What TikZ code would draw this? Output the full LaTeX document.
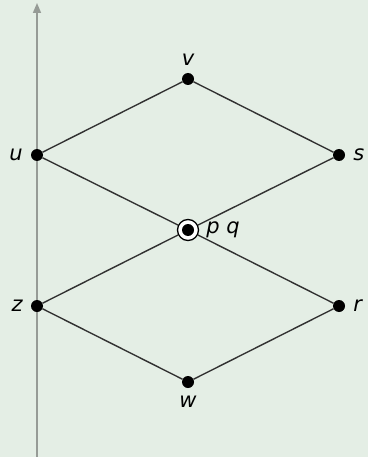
\documentclass[tikz,border=0pt]{standalone}
\usepackage{fontspec}
\setmainfont{DejaVu Sans}
\usetikzlibrary{arrows.meta,positioning}
\definecolor{bgpale}{RGB}{228,238,229}
\definecolor{edgegray}{RGB}{50,50,50}
\definecolor{axisgray}{RGB}{150,155,150}

\begin{document}
\begin{tikzpicture}[x=1pt, y=-1pt,
  dot/.style={circle, fill=black, inner sep=0pt, minimum size=12pt},
  ring/.style={circle, draw=black, line width=1.3pt, fill=white, inner sep=0pt, minimum size=21pt},
  lbl/.style={font=\fontsize{21}{24}\selectfont\itshape, inner sep=2pt},
  edge/.style={draw=edgegray, line width=1.4pt},
  axis/.style={-{Triangle[length=10pt,width=8pt]}, draw=axisgray, fill=axisgray, line width=1.6pt}
]
  \fill[bgpale] (0,0) rectangle (368,457);
  \useasboundingbox (0,0) rectangle (368,457);

  % axis
  \coordinate (axb) at (37,457);
  \coordinate (axt) at (37,3);
  \draw[axis] (axb) -- (axt);

  % vertices
  \node[dot] (v) at (188,79)  {};
  \node[dot] (u) at (37,155)  {};
  \node[dot] (s) at (339,155) {};
  \node[ring] (pqr) at (188,230) {};
  \node[dot] (pq) at (188,230) {};
  \node[dot] (z) at (37,306)  {};
  \node[dot] (r) at (339,306) {};
  \node[dot] (w) at (188,382) {};

  % edges
  \draw[edge] (u) -- (v) -- (s);
  \draw[edge] (u) -- (pqr);
  \draw[edge] (s) -- (pqr);
  \draw[edge] (z) -- (pqr);
  \draw[edge] (r) -- (pqr);
  \draw[edge] (z) -- (w) -- (r);

  % labels
  \node[lbl, above=5pt of v] (lv) {v};
  \node[lbl, left=6pt of u]  (lu) {u};
  \node[lbl, right=6pt of s] (ls) {s};
  \node[lbl, right=5pt of pqr] (lpq) {p q};
  \node[lbl, left=6pt of z]  (lz) {z};
  \node[lbl, right=6pt of r] (lr) {r};
  \node[lbl, below=6pt of w] (lw) {w};
\end{tikzpicture}
\end{document}
